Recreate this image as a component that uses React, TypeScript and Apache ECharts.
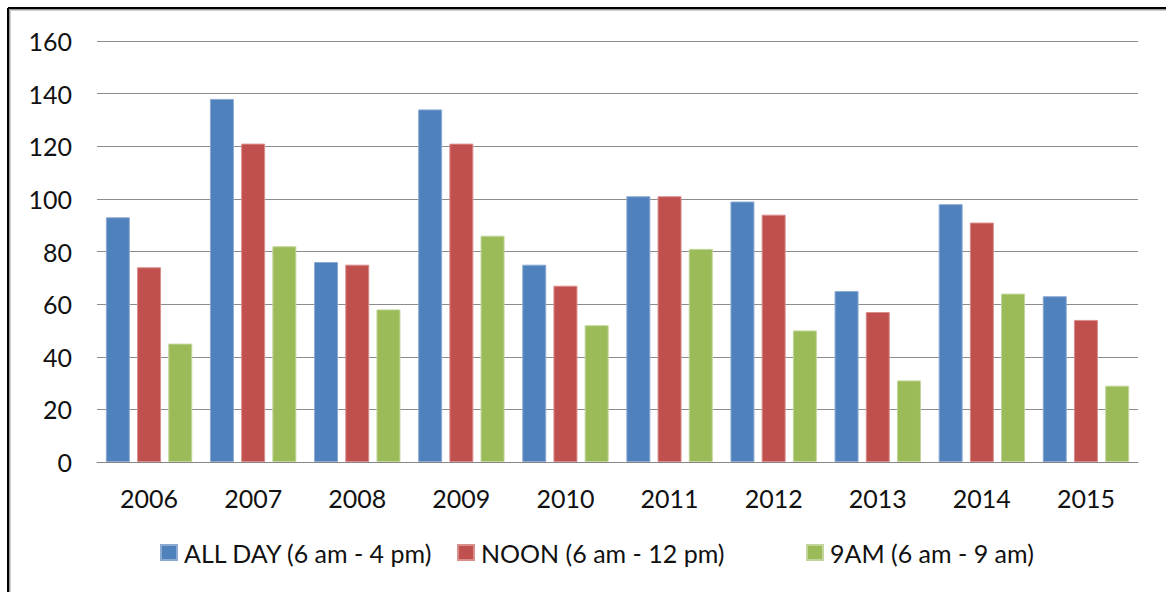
import React, { useEffect, useRef } from "react";
import * as echarts from "echarts";

const years = ["2006", "2007", "2008", "2009", "2010", "2011", "2012", "2013", "2014", "2015"];
const allDay = [93, 138, 76, 134, 75, 101, 99, 65, 98, 63];
const noon = [74, 121, 75, 121, 67, 101, 94, 57, 91, 54];
const nineAm = [45, 82, 58, 86, 52, 81, 50, 31, 64, 29];
const seriesNames = ["ALL DAY (6 am - 4 pm)", "NOON (6 am - 12 pm)", "9AM (6 am - 9 am)"];
const seriesColors = ["#4F81BD", "#C0504D", "#9BBB59"];
const seriesEdges = ["#8DAAD3", "#D98E8C", "#C2D69B"];
const legendLefts = [155, 452, 801];

const FONT = "Lato, 'Noto Sans', sans-serif";
const TEXT = "#111";

export default function App() {
  const ref = useRef<HTMLDivElement>(null);

  useEffect(() => {
    if (!ref.current) return;
    const chart = echarts.init(ref.current, null, { renderer: "svg" });
    const data = [allDay, noon, nineAm];
    chart.setOption({
      animation: false,
      backgroundColor: "#ffffff",
      textStyle: { fontFamily: FONT },
      grid: { left: 97, right: 28, top: 41, bottom: 130, containLabel: false },
      // one legend per entry so each sits at its own spot along the bottom
      legend: seriesNames.map((name, i) => ({
        left: legendLefts[i],
        top: 535,
        itemWidth: 16,
        itemHeight: 15,
        itemGap: 0,
        icon: "rect",
        textStyle: { fontSize: 25, color: TEXT, fontFamily: FONT, padding: [0, 0, 0, 2] },
        data: [name],
      })),
      xAxis: {
        type: "category",
        data: years,
        axisLine: { show: true, lineStyle: { color: "#868686", width: 1 } },
        axisTick: { show: false },
        axisLabel: { fontSize: 25, color: TEXT, margin: 23, fontFamily: FONT },
      },
      yAxis: {
        type: "value",
        min: 0,
        max: 160,
        interval: 20,
        axisLine: { show: false },
        axisTick: { show: false },
        axisLabel: { fontSize: 25, color: TEXT, margin: 25, fontFamily: FONT },
        splitLine: { lineStyle: { color: "#8C8C8C", width: 1 } },
      },
      series: data.map((values, i) => ({
        name: seriesNames[i],
        type: "bar",
        data: values,
        barWidth: 24,
        barGap: "30%",
        itemStyle: { color: seriesColors[i], borderColor: seriesEdges[i], borderWidth: 1 },
      })),
      graphic: [
        {
          type: "line",
          silent: true,
          shape: { x1: 8, y1: 8, x2: 1166, y2: 8 },
          style: { stroke: "#000", lineWidth: 2 },
        },
        {
          type: "line",
          silent: true,
          shape: { x1: 8, y1: 8, x2: 8, y2: 592 },
          style: { stroke: "#000", lineWidth: 2 },
        },
        {
          type: "line",
          silent: true,
          shape: { x1: 9, y1: 9.5, x2: 1166, y2: 9.5 },
          style: { stroke: "#999", lineWidth: 1 },
        },
        {
          type: "line",
          silent: true,
          shape: { x1: 9.5, y1: 9, x2: 9.5, y2: 592 },
          style: { stroke: "#999", lineWidth: 1 },
        },
        {
          type: "line",
          silent: true,
          shape: { x1: 10, y1: 10.5, x2: 1166, y2: 10.5 },
          style: { stroke: "#cfcfcf", lineWidth: 1 },
        },
        {
          type: "line",
          silent: true,
          shape: { x1: 10.5, y1: 10, x2: 10.5, y2: 592 },
          style: { stroke: "#cfcfcf", lineWidth: 1 },
        },
      ],
    });
    return () => chart.dispose();
  }, []);

  return (
    <div
      ref={ref}
      style={{ position: "absolute", left: 0, top: 0, width: 1166, height: 592 }}
    />
  );
}
